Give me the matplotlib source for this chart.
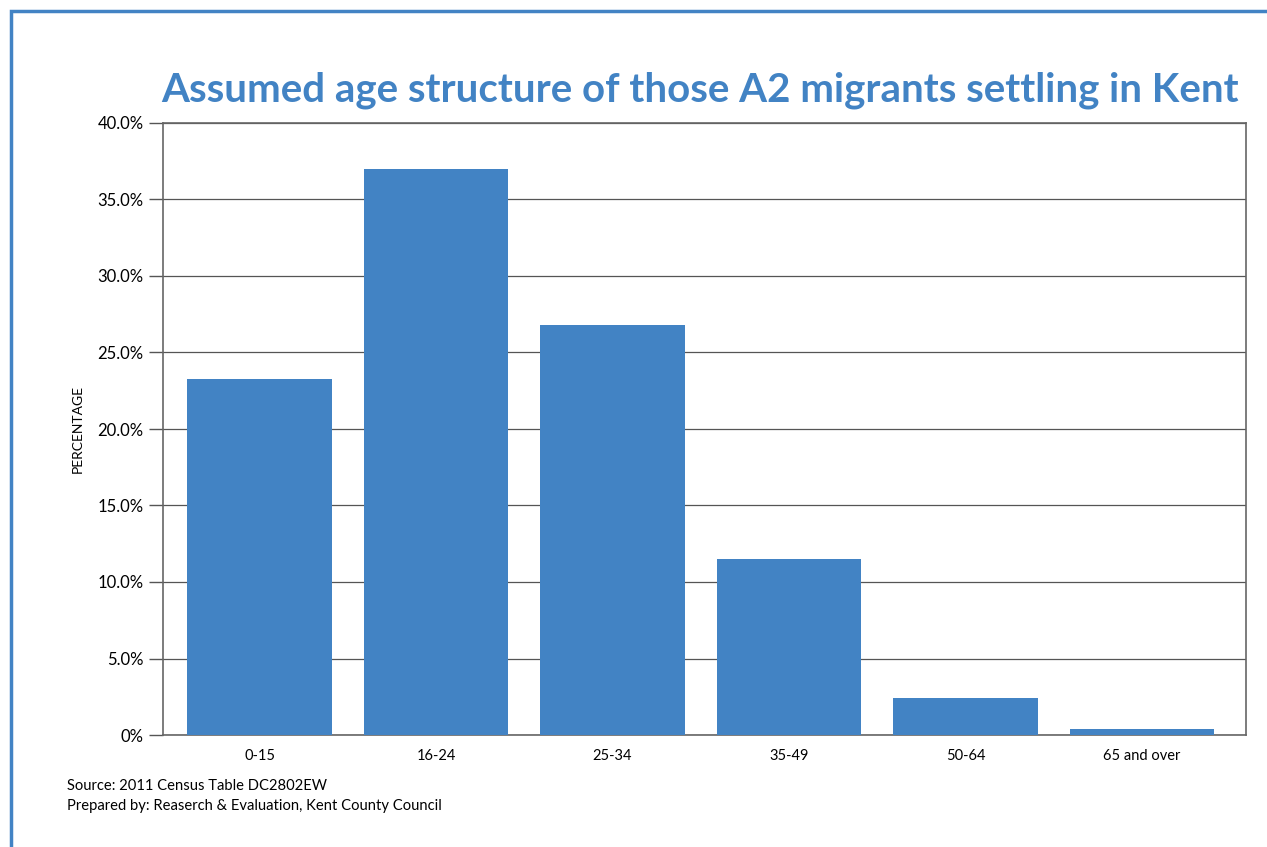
import matplotlib
matplotlib.use("Agg")
import matplotlib.pyplot as plt
from matplotlib.patches import Rectangle
from matplotlib.ticker import FuncFormatter

categories = ["0-15", "16-24", "25-34", "35-49", "50-64", "65 and over"]
values = [23.3, 37.0, 26.8, 11.5, 2.4, 0.4]
yticks = [0, 5, 10, 15, 20, 25, 30, 35, 40]

blue = "#4283C4"
plt.rcParams['font.family'] = ['Lato', 'DejaVu Sans']

fig = plt.figure(figsize=(12.67, 8.47), dpi=100)
W, H = 1267, 847
ax = fig.add_axes([163 / W, 1 - 735 / H, (1246 - 163) / W, (735 - 123) / H])

x = list(range(len(categories)))
ax.bar(x, values, width=0.82, color=blue, zorder=3)
ax.set_xlim(-0.547, len(categories) - 0.41)
ax.set_ylim(0, 40)
ax.set_yticks(yticks)
ax.yaxis.set_major_formatter(FuncFormatter(lambda v, p: "0%" if v == 0 else f"{v:.1f}%"))
ax.set_xticks(x)
ax.set_xticklabels(categories)
ax.grid(axis='y', color='#555555', linewidth=0.9, zorder=0)
for s in ax.spines.values():
    s.set_color('#666666')
    s.set_linewidth(1.2)
ax.tick_params(axis='y', length=10, width=1, color='#555555', labelsize=12, pad=4)
ax.tick_params(axis='x', length=0, labelsize=10.5, pad=10)
ax.set_ylabel("PERCENTAGE", fontsize=10, labelpad=10)

fig.text(700 / W, 1 - 90 / H, "Assumed age structure of those A2 migrants settling in Kent",
         ha='center', va='center', fontsize=29, fontweight='bold', color=blue)
fig.text(67 / W, 1 - 786 / H, "Source: 2011 Census Table DC2802EW", fontsize=10.6, va='center')
fig.text(67 / W, 1 - 806 / H, "Prepared by: Reaserch & Evaluation, Kent County Council", fontsize=10.6, va='center')

fig.add_artist(Rectangle((10.5 / W, -0.1), 1.2, (1 - 11 / H) + 0.1, transform=fig.transFigure,
                         fill=False, edgecolor=blue, linewidth=2.5))

fig.savefig("out.png", dpi=100)
